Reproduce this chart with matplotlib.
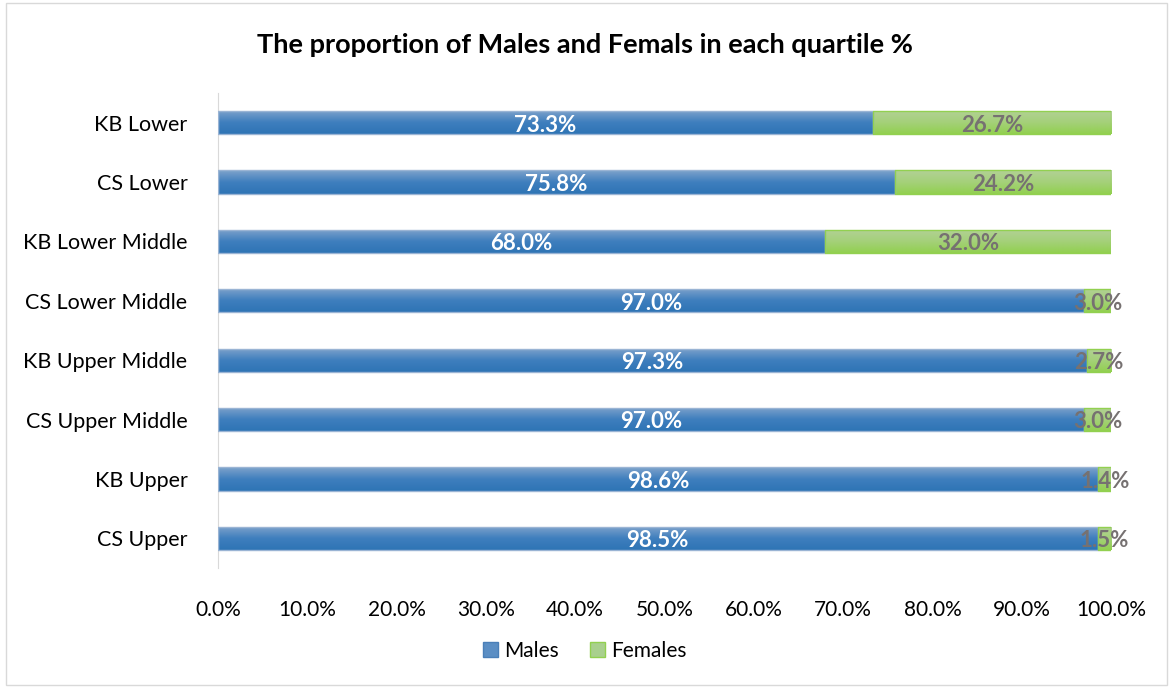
import numpy as np
import matplotlib.pyplot as plt
from matplotlib.colors import LinearSegmentedColormap
from matplotlib.patches import Rectangle

plt.rcParams['font.family'] = ['Lato', 'DejaVu Sans']

categories = ["KB Lower ", "CS Lower ", "KB Lower Middle ", "CS Lower Middle ",
              "KB Upper Middle ", "CS Upper Middle ", "KB Upper ", "CS Upper "]
males = [73.3, 75.8, 68.0, 97.0, 97.3, 97.0, 98.6, 98.5]
females = [26.7, 24.2, 32.0, 3.0, 2.7, 3.0, 1.4, 1.5]
ticks = np.arange(0, 101, 10)

fig = plt.figure(figsize=(11.7, 6.87), dpi=100)
ax = fig.add_axes([218/1170, 1 - 568/687, (1111-218)/1170, (568-93)/687])

# cadre autour du graphique
fig.patches.append(Rectangle((6/1170, 2/687), 1161/1170, 682/687, transform=fig.transFigure,
                             fill=False, edgecolor="#d9d9d9", lw=1))

blue_cmap = LinearSegmentedColormap.from_list("b", ["#7fa3cb", "#3f7fbe", "#2e74b5"])
green_cmap = LinearSegmentedColormap.from_list("g", ["#b2d196", "#a5d07a", "#92d050"])
grad = np.linspace(0, 1, 64).reshape(-1, 1)

y = np.arange(len(categories))
h = 0.39


def gradient_bar(x0, w, yc, cmap, edge):
    rect = Rectangle((x0, yc - h/2), w, h, facecolor="none", edgecolor=edge, lw=1, zorder=3)
    ax.add_patch(rect)
    im = ax.imshow(grad, cmap=cmap, aspect="auto", extent=(x0, x0 + w, yc + h/2, yc - h/2),
                   zorder=2, interpolation="bilinear")
    im.set_clip_path(rect)


for i in range(len(categories)):
    gradient_bar(0, males[i], y[i], blue_cmap, "#9ab4d4")
    gradient_bar(males[i], females[i], y[i], green_cmap, "#92d050")
    ax.text(males[i] / 2, y[i] + 0.04, f"{males[i]:.1f}%", ha="center", va="center",
            color="white", fontsize=16, fontweight="bold", zorder=5)
    ax.text(males[i] + females[i] / 2, y[i] + 0.04, f"{females[i]:.1f}%", ha="center",
            va="center", color="#767171", fontsize=16, fontweight="bold", zorder=5)

ax.set_xlim(0, 100)
ax.set_ylim(len(categories) - 0.5, -0.5)
ax.set_yticks(y)
ax.set_yticklabels(categories, fontsize=15.5)
ax.set_xticks(ticks)
ax.set_xticklabels([f"{t:.1f}%" for t in ticks], fontsize=15)
ax.tick_params(length=0)
ax.tick_params(axis="x", pad=23)
ax.tick_params(axis="y", pad=18)
for s in ["top", "right", "bottom"]:
    ax.spines[s].set_visible(False)
ax.spines["left"].set_color("#d9d9d9")

fig.text(0.5, 1 - 45/687, "The proportion of Males and Femals in each quartile %",
         ha="center", va="center", fontsize=19.5, fontweight="bold")

h1 = Rectangle((0, 0), 1, 1, facecolor="#5b8ec4", edgecolor="#4a7fb8")
h2 = Rectangle((0, 0), 1, 1, facecolor="#a9d08e", edgecolor="#92d050")
fig.legend([h1, h2], ["Males", "Females"], loc="center", bbox_to_anchor=(0.5, 1 - 651/687),
           ncol=2, frameon=False, fontsize=15, handlelength=0.7, handleheight=0.7,
           columnspacing=1.5, handletextpad=0.3)

fig.savefig("out.png", dpi=100)
